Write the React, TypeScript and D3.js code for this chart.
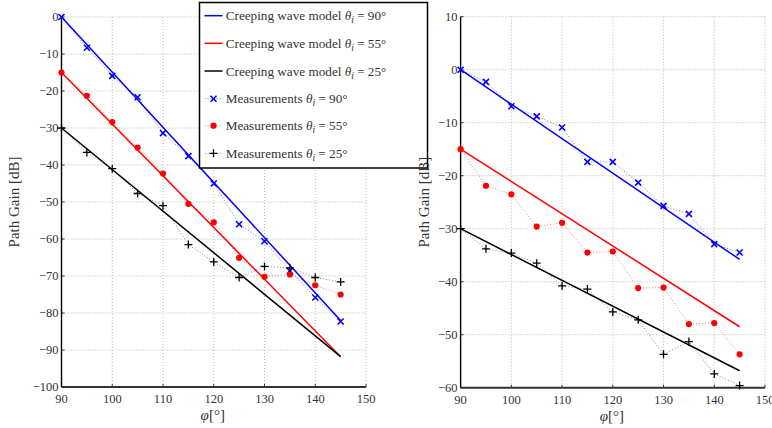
import React from "react";
import * as d3 from "d3";

// ---------- data ----------
const phi = [90, 95, 100, 105, 110, 115, 120, 125, 130, 135, 140, 145];
const modelPhi = [90, 145];

const xTicks = [90, 100, 110, 120, 130, 140, 150];
const leftYTicks = [0, -10, -20, -30, -40, -50, -60, -70, -80, -90, -100];
const rightYTicks = [10, 0, -10, -20, -30, -40, -50, -60];

// left panel
const leftModel90 = [0, -82];
const leftModel55 = [-15, -91.8];
const leftModel25 = [-30, -91.8];
const leftMeas90 = [0, -8.3, -15.9, -21.7, -31.4, -37.6, -45.0, -56.0, -60.6, -68.6, -75.8, -82.3];
const leftMeas55 = [-15, -21.3, -28.4, -35.3, -42.3, -50.5, -55.5, -65.1, -70.2, -69.6, -72.5, -75.0];
const leftMeas25 = [-30, -36.6, -41.0, -47.7, -51.0, -61.5, -66.2, -70.4, -67.4, -67.8, -70.4, -71.6];

// right panel
const rightModel90 = [0, -35.8];
const rightModel55 = [-15, -48.5];
const rightModel25 = [-30, -56.8];
const rightMeas90 = [0, -2.3, -6.9, -8.8, -10.9, -17.4, -17.4, -21.3, -25.7, -27.2, -32.9, -34.5];
const rightMeas55 = [-15, -21.9, -23.5, -29.6, -28.9, -34.5, -34.3, -41.2, -41.1, -48.0, -47.8, -53.7];
const rightMeas25 = [-30, -33.8, -34.6, -36.5, -40.8, -41.4, -45.7, -47.2, -53.7, -51.3, -57.4, -59.6];

const legendAngles = ["90", "55", "25"];
const seriesColors = ["#0000ff", "#ff0000", "#000000"];
const measColors = ["#6f6fff", "#ff7a7a", "#8a8a8a"];

const FONT = "Liberation Serif, DejaVu Serif, Times New Roman, serif";
const fontStyle = (size: number): React.CSSProperties => ({ fontFamily: FONT, fontSize: size + "px" });

type Marker = "x" | "o" | "+";
const markers: Marker[] = ["x", "o", "+"];

function MarkerShape({ kind, x, y, color }: { kind: Marker; x: number; y: number; color: string }) {
  if (kind === "x") {
    const s = 3;
    return (
      <path
        d={`M${x - s},${y - s}L${x + s},${y + s}M${x - s},${y + s}L${x + s},${y - s}`}
        stroke={color}
        strokeWidth={1.6}
        fill="none"
      />
    );
  }
  if (kind === "o") return <circle cx={x} cy={y} r={3.1} fill={color} />;
  const s = 4;
  return (
    <path
      d={`M${x - s},${y}L${x + s},${y}M${x},${y - s}L${x},${y + s}`}
      stroke={color}
      strokeWidth={1.3}
      fill="none"
    />
  );
}

interface PanelProps {
  xRange: [number, number];
  yDomain: [number, number];
  yRange: [number, number];
  yTicks: number[];
  models: number[][];
  meas: number[][];
  yLabelX: number;
}

function Panel({ xRange, yDomain, yRange, yTicks, models, meas, yLabelX }: PanelProps) {
  const x = d3.scaleLinear().domain([90, 150]).range(xRange);
  const y = d3.scaleLinear().domain(yDomain).range(yRange);
  const [x0, x1] = xRange;
  const [yTop, yBot] = yRange;
  const line = d3
    .line<[number, number]>()
    .x((d) => x(d[0]))
    .y((d) => y(d[1]));

  return (
    <g>
      {/* grid */}
      {xTicks.map((t) => (
        <line key={"gx" + t} x1={x(t)} x2={x(t)} y1={yTop} y2={yBot} stroke="#b8b8b8" strokeWidth={1} strokeDasharray="1,2" />
      ))}
      {yTicks.map((t) => (
        <line key={"gy" + t} x1={x0} x2={x1} y1={y(t)} y2={y(t)} stroke="#b8b8b8" strokeWidth={1} strokeDasharray="1,2" />
      ))}
      {/* ticks */}
      {xTicks.map((t) => (
        <line key={"tx" + t} x1={x(t)} x2={x(t)} y1={yBot} y2={yBot - 3} stroke="#333" strokeWidth={1} />
      ))}
      {yTicks.map((t) => (
        <line key={"ty" + t} x1={x0} x2={x0 + 3} y1={y(t)} y2={y(t)} stroke="#333" strokeWidth={1} />
      ))}
      {/* axes */}
      <line x1={x0} x2={x0} y1={yTop} y2={yBot} stroke="#000" strokeWidth={1.4} />
      <line x1={x0} x2={x1} y1={yBot} y2={yBot} stroke="#333" strokeWidth={2} />
      {/* tick labels */}
      {xTicks.map((t) => (
        <text key={"lx" + t} x={x(t)} y={yBot + 16} textAnchor="middle" style={fontStyle(12.5)} fill="#333">
          {t}
        </text>
      ))}
      {yTicks.map((t) => (
        <text key={"ly" + t} x={x0 - 3} y={y(t) + 4.3} textAnchor="end" style={fontStyle(12.5)} fill="#333">
          {t < 0 ? "\u2212" + Math.abs(t) : String(t)}
        </text>
      ))}
      {/* measurement lines */}
      {meas.map((vals, i) => (
        <path
          key={"ml" + i}
          d={line(phi.map((p, j) => [p, vals[j]] as [number, number])) || ""}
          stroke={measColors[i]}
          strokeWidth={1}
          strokeDasharray="1,2"
          fill="none"
        />
      ))}
      {/* model lines */}
      {models.map((vals, i) => (
        <path
          key={"mo" + i}
          d={line(modelPhi.map((p, j) => [p, vals[j]] as [number, number])) || ""}
          stroke={seriesColors[i]}
          strokeWidth={1.5}
          fill="none"
        />
      ))}
      {/* markers */}
      {meas.map((vals, i) =>
        phi.map((p, j) => <MarkerShape key={"mk" + i + "_" + j} kind={markers[i]} x={x(p)} y={y(vals[j])} color={seriesColors[i]} />)
      )}
      {/* axis labels */}
      <text x={(x0 + x1) / 2 - 1} y={yBot + 33} textAnchor="middle" style={fontStyle(15)} fill="#333">
        <tspan fontStyle="italic">φ</tspan>[°]
      </text>
      <text
        transform={`translate(${yLabelX},${(yTop + yBot) / 2}) rotate(-90)`}
        textAnchor="middle"
        style={fontStyle(15)}
        fill="#333"
      >
        Path Gain [dB]
      </text>
    </g>
  );
}

function Legend() {
  const lx = 199.5;
  const ly = 2.5;
  const w = 228;
  const h = 165.5;
  const rows = [15.7, 43.3, 71, 98.7, 125.7, 153.3];
  const labels = [
    ...legendAngles.map((a) => ({ pre: "Creeping wave model ", a })),
    ...legendAngles.map((a) => ({ pre: "Measurements ", a })),
  ];
  return (
    <g>
      <rect x={lx} y={ly} width={w} height={h} fill="#fff" stroke="#000" strokeWidth={1.5} />
      {labels.map((lab, i) => {
        const yy = rows[i];
        const ci = i % 3;
        const isModel = i < 3;
        return (
          <g key={"lg" + i}>
            {isModel ? (
              <line x1={204.5} x2={222.5} y1={yy} y2={yy} stroke={seriesColors[ci]} strokeWidth={1.5} />
            ) : (
              <g>
                <line x1={204.5} x2={222.5} y1={yy} y2={yy} stroke={measColors[ci]} strokeWidth={1} strokeDasharray="1,2" />
                <MarkerShape kind={markers[ci]} x={213.5} y={yy} color={seriesColors[ci]} />
              </g>
            )}
            <text x={225.7} y={yy + 4.6} style={fontStyle(13.2)} fill="#333">
              {lab.pre}
              <tspan fontStyle="italic">θ</tspan>
              <tspan fontStyle="italic" fontSize={9.5} dy={3}>i</tspan>
              <tspan dy={-3}>{" = " + lab.a + "°"}</tspan>
            </text>
          </g>
        );
      })}
    </g>
  );
}

export default function App() {
  return (
    <div style={{ position: "absolute", left: 0, top: 0 }}>
      <svg width={772} height={428} style={{ display: "block", background: "#fff" }}>
        <Panel
          xRange={[61.5, 366]}
          yDomain={[0, -100]}
          yRange={[17, 387]}
          yTicks={leftYTicks}
          models={[leftModel90, leftModel55, leftModel25]}
          meas={[leftMeas90, leftMeas55, leftMeas25]}
          yLabelX={19}
        />
        <Legend />
        <Panel
          xRange={[460.6, 765]}
          yDomain={[10, -60]}
          yRange={[16.7, 387.7]}
          yTicks={rightYTicks}
          models={[rightModel90, rightModel55, rightModel25]}
          meas={[rightMeas90, rightMeas55, rightMeas25]}
          yLabelX={429}
        />
      </svg>
    </div>
  );
}
